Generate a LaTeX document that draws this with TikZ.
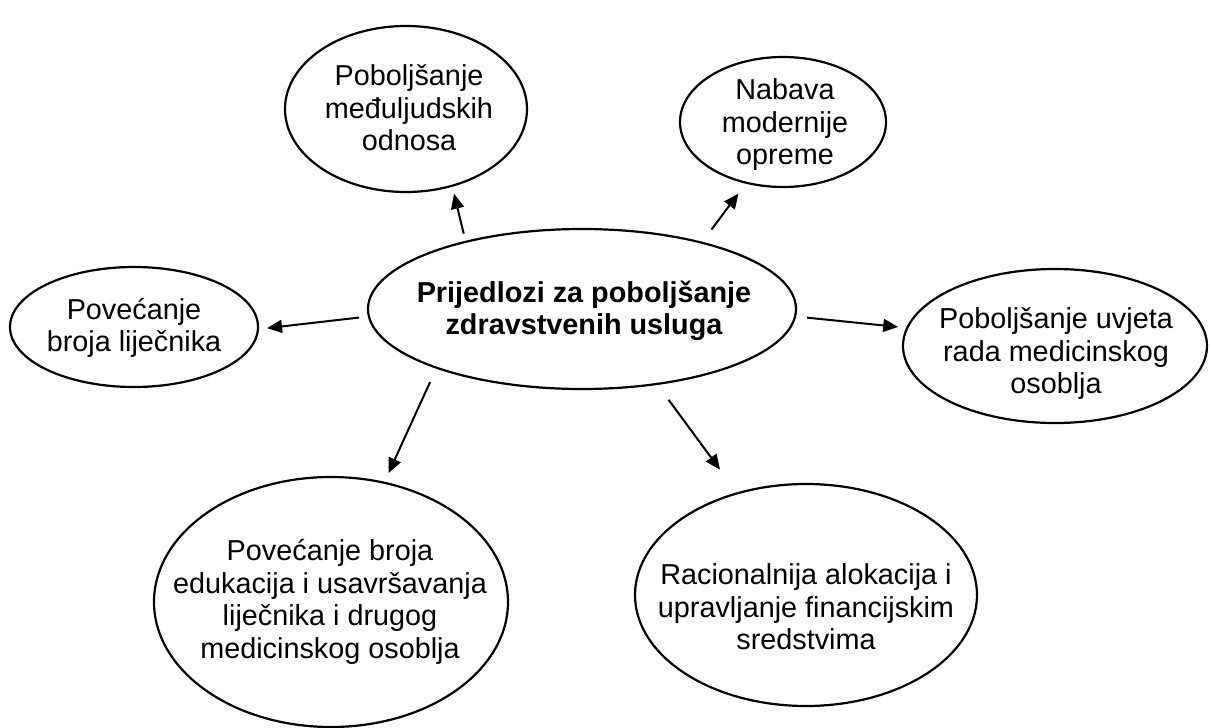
\documentclass[tikz,border=0pt]{standalone}
\usepackage{fontspec}
\setmainfont{Liberation Sans}
\usetikzlibrary{arrows.meta, shapes.geometric}

\begin{document}
\begin{tikzpicture}[x=0.5pt, y=-0.5pt, bubble/.style={ellipse, draw, line width=1.1pt, inner sep=0pt, outer sep=0pt}, txt/.style={align=center, inner sep=0pt, font=\fontsize{14.4}{16.25}\selectfont}, ->, >={Triangle[length=7.5pt, width=6.5pt]}, every edge/.append style={line width=1pt}]
        \useasboundingbox (0,0) rectangle (1211,728);

        \node[bubble, minimum width=214pt, minimum height=80pt] (main) at (582,309) {};
        \node[bubble, minimum width=121pt, minimum height=83pt] (tl) at (406,109) {};
        \node[bubble, minimum width=103pt, minimum height=65pt] (tr) at (783,122) {};
        \node[bubble, minimum width=124pt, minimum height=60pt] (lt) at (134,327) {};
        \node[bubble, minimum width=152pt, minimum height=77pt] (rt) at (1055,346) {};
        \node[bubble, minimum width=177pt, minimum height=125pt] (bl) at (331,602) {};
        \node[bubble, minimum width=171pt, minimum height=111pt] (br) at (806,595) {};

        \node[txt, font=\fontsize{14.4}{16.25}\selectfont\bfseries] (main-t) at (584,311) {Prijedlozi za poboljšanje\\zdravstvenih usluga};
        \node[txt] (tl-t) at (409,108) {Poboljšanje\\međuljudskih\\odnosa};
        \node[txt] (tr-t) at (785,125) {Nabava\\modernije\\opreme};
        \node[txt] (lt-t) at (134,328) {Povećanje\\broja liječnika};
        \node[txt] (rt-t) at (1056,354) {Poboljšanje uvjeta\\rada medicinskog\\osoblja};
        \node[txt] (bl-t) at (330,602) {Povećanje broja\\edukacija i usavršavanja\\liječnika i drugog\\medicinskog osoblja};
        \node[txt] (br-t) at (806,607) {Racionalnija alokacija i\\upravljanje financijskim\\sredstvima};

        \path (main.150.2) edge [shorten <=4.2pt, shorten >=4.1pt] (tl.-59.7);
        \path (main.29.9) edge [shorten <=8.2pt, shorten >=6.7pt] (tr.-121.9);
        \path (main.182.9) edge [shorten <=5pt, shorten >=4.6pt] (lt.-1.85);
        \path (main.-2.07) edge [shorten <=6pt, shorten >=4.6pt] (rt.173.1);
        \path (main.202.8) edge [shorten <=7.9pt, shorten >=5.3pt] (bl.66.3);
        \path (main.-45.7) edge [shorten <=9.8pt, shorten >=14.7pt] (br.124.5);
    \end{tikzpicture}
\end{document}
